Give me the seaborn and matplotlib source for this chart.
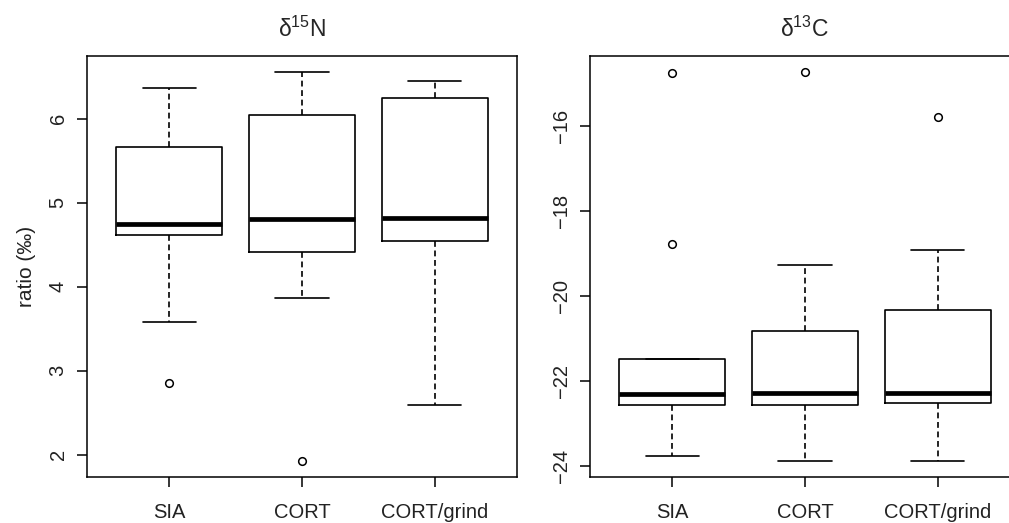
import numpy as np
import pandas as pd
import matplotlib
matplotlib.use("Agg")
from matplotlib import pyplot as plt
import seaborn as sns

groups = ["SIA", "CORT", "CORT/grind"]

n15_sia = [2.85, 3.58, 4.61, 4.68, 4.75, 5.20, 5.66, 6.00, 6.36]
n15_cort = [1.92, 3.87, 4.41, 4.60, 4.80, 5.50, 6.04, 6.30, 6.56]
n15_grind = [2.59, 3.50, 4.54, 4.70, 4.82, 5.60, 6.24, 6.35, 6.45]

# d13C per method
c13_sia = [-23.76, -22.90, -22.57, -22.45, -22.31, -21.90, -21.47, -18.78, -14.75]
c13_cort = [-23.89, -23.20, -22.57, -22.40, -22.28, -21.50, -20.81, -19.27, -14.71]
c13_grind = [-23.89, -23.00, -22.52, -22.40, -22.28, -21.30, -20.32, -18.92, -15.78]


def long_table(values):
    return pd.DataFrame({
        "method": np.repeat(groups, [len(v) for v in values]),
        "ratio": np.concatenate(values),
    })


def draw(ax, df, title):
    sns.boxplot(data=df, x="method", y="ratio", order=groups, ax=ax,
                fill=False, width=0.8, color="black", linecolor="black",
                linewidth=1.2, whis=1.5,
                medianprops=dict(linewidth=3.4, color="black"),
                whiskerprops=dict(linestyle=(0, (3.5, 2.2))),
                flierprops=dict(marker="o", markerfacecolor="none",
                                markeredgecolor="black", markersize=5.5,
                                markeredgewidth=1.1))
    # R style limits: data range plus 4%
    lo, hi = df["ratio"].min(), df["ratio"].max()
    pad = 0.04 * (hi - lo)
    ax.set_ylim(lo - pad, hi + pad)
    ax.set_xlim(-0.62, 2.62)
    ax.set_title(title, fontsize=16.5, pad=13.5)
    ax.set_xlabel("")
    ax.set_ylabel("")
    for s in ax.spines.values():
        s.set_visible(True)
        s.set_color("black")
        s.set_linewidth(1.1)
    ax.tick_params(axis="both", direction="out", length=7.5, width=1.1,
                   color="black", labelsize=14.5, labelcolor="#222222",
                   bottom=True, left=True)
    ax.tick_params(axis="x", pad=11)
    ax.tick_params(axis="y", pad=6.5, labelrotation=90)


sns.set_theme(style="white")
plt.rcParams["font.family"] = ["Liberation Sans", "DejaVu Sans"]
plt.rcParams["mathtext.fontset"] = "custom"
plt.rcParams["mathtext.rm"] = "Liberation Sans"
plt.rcParams["mathtext.it"] = "Liberation Sans:italic"
plt.rcParams["axes.unicode_minus"] = True

fig = plt.figure(figsize=(10.09, 5.23), dpi=100)
ax1 = fig.add_axes([0.0862, 0.088, 0.4262, 0.805])
ax2 = fig.add_axes([0.5847, 0.088, 0.4262, 0.805])

draw(ax1, long_table([n15_sia, n15_cort, n15_grind]), "δ$^{15}$N")
ax1.set_yticks([2, 3, 4, 5, 6])
ax1.set_ylabel("ratio (‰)", fontsize=15, labelpad=9, color="#222222")

draw(ax2, long_table([c13_sia, c13_cort, c13_grind]), "δ$^{13}$C")
ax2.set_yticks([-24, -22, -20, -18, -16])

for ax in (ax1, ax2):
    for lab in ax.get_yticklabels():
        lab.set_va("center")

fig.savefig("out.png", dpi=100)
